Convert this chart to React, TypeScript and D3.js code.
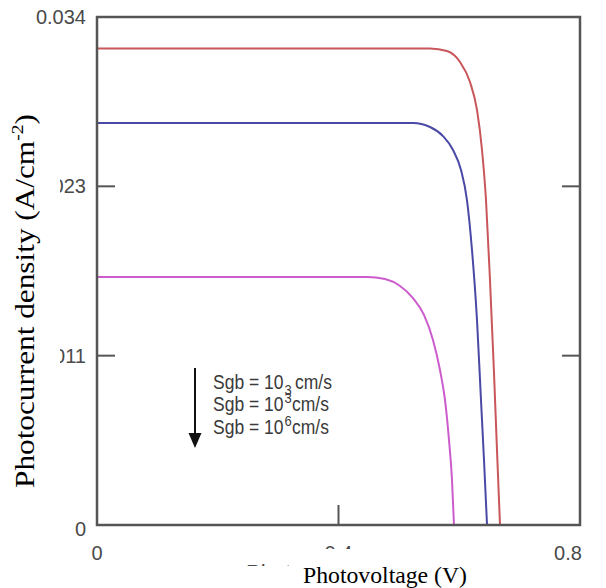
import React from "react";
import * as d3 from "d3";

// Data (V in volts, J in A/cm^2)
const redV = [0, 0.3, 0.5516, 0.5797, 0.6012, 0.6178, 0.6294, 0.6377, 0.6443, 0.6509, 0.6575, 0.6625, 0.6675];
const redJ = [0.0319, 0.0319, 0.0319, 0.03172, 0.03099, 0.02965, 0.02778, 0.0251, 0.02175, 0.0164, 0.01024, 0.00502, 0];
const blueV = [0, 0.3, 0.5234, 0.5516, 0.5731, 0.5897, 0.6029, 0.6128, 0.6211, 0.6294, 0.636, 0.641, 0.646];
const blueJ = [0.0269, 0.0269, 0.0269, 0.02664, 0.02603, 0.0251, 0.02376, 0.02175, 0.01841, 0.01372, 0.00837, 0.00435, 0];
const magV = [0, 0.3, 0.4472, 0.477, 0.5019, 0.5234, 0.5416, 0.5565, 0.5681, 0.5764, 0.583, 0.588, 0.5913];
const magJ = [0.0166, 0.0166, 0.0166, 0.01646, 0.016, 0.01519, 0.01406, 0.01238, 0.01037, 0.00837, 0.00569, 0.00301, 0];

const yTickValues = [0, 0.034 / 3, 0.068 / 3, 0.034];
const yTickLabels = ["0", "0.011", "0.023", "0.034"];
const xTickValues = [0, 0.4, 0.8];
const xTickLabels = ["0", "0.4", "0.8"];
const legendExp = ["3", "3", "6"];

const W = 606;
const H = 588;

export default function App() {
  const x = d3.scaleLinear().domain([0, 0.8]).range([97, 580]);
  const y = d3.scaleLinear().domain([0, 0.034]).range([525, 17]);
  const line = d3
    .line<[number, number]>()
    .x((d) => x(d[0]))
    .y((d) => y(d[1]))
    .curve(d3.curveMonotoneX);

  const series = [
    { v: redV, j: redJ, color: "#c8565a" },
    { v: blueV, j: blueJ, color: "#4a4aa6" },
    { v: magV, j: magJ, color: "#cc5ccc" },
  ];

  const axisColor = "#555";
  const tickFont = "'Liberation Sans', Arial, sans-serif";
  const legFont = "'Liberation Sans', Arial, sans-serif";

  const legBase = [389, 411, 434];

  return (
    <svg
      width={W}
      height={H}
      style={{ position: "absolute", left: 0, top: 0, background: "#fff" }}
    >
      <defs>
        <clipPath id="lblclip">
          <rect x={60} y={0} width={40} height={H} />
        </clipPath>
      </defs>
      <rect x={0} y={0} width={W} height={H} fill="#fff" />

      {/* curves */}
      {series.map((s, i) => (
        <path
          key={i}
          d={line(s.v.map((v, k) => [v, s.j[k]] as [number, number])) || ""}
          fill="none"
          stroke={s.color}
          strokeWidth={2}
        />
      ))}

      {/* frame */}
      <rect
        x={x(0)}
        y={y(0.034)}
        width={x(0.8) - x(0)}
        height={y(0) - y(0.034)}
        fill="none"
        stroke={axisColor}
        strokeWidth={2.5}
      />

      {/* y ticks */}
      {yTickValues.map((t, i) =>
        i > 0 && i < yTickValues.length - 1 ? (
          <g key={"yt" + i}>
            <line x1={x(0)} x2={x(0) + 18} y1={y(t)} y2={y(t)} stroke={axisColor} strokeWidth={2} />
            <line x1={x(0.8) - 18} x2={x(0.8)} y1={y(t)} y2={y(t)} stroke={axisColor} strokeWidth={2} />
          </g>
        ) : null
      )}
      {yTickValues.map((t, i) => (
        <text
          key={"yl" + i}
          x={86}
          y={y(t) + (i === 0 ? 11 : 7)}
          textAnchor="end"
          fontFamily={tickFont}
          fontSize={20}
          fill="#4a4a4a"
          clipPath={i === 1 || i === 2 ? "url(#lblclip)" : undefined}
        >
          {yTickLabels[i]}
        </text>
      ))}

      {/* x ticks */}
      {xTickValues.map((t, i) =>
        i > 0 && i < xTickValues.length - 1 ? (
          <line key={"xt" + i} x1={x(t)} x2={x(t)} y1={y(0)} y2={y(0) - 20} stroke={axisColor} strokeWidth={2} />
        ) : null
      )}
      {/* original axis title remnant */}
      <text x={246} y={580} fontFamily={tickFont} fontSize={22} fill="#4a4a4a">
        Photovoltage (V)
      </text>
      {xTickValues.map((t, i) => (
        <text
          key={"xl" + i}
          x={x(t) - (i === xTickValues.length - 1 ? 12 : 0)}
          y={560}
          textAnchor="middle"
          fontFamily={tickFont}
          fontSize={20}
          fill="#4a4a4a"
        >
          {xTickLabels[i]}
        </text>
      ))}
      <rect x={296} y={549} width={240} height={H - 549} fill="#fff" />
      <rect x={200} y={566} width={340} height={H - 566} fill="#fff" />

      {/* legend arrow */}
      <line x1={195} x2={195} y1={368} y2={436} stroke="#111" strokeWidth={2} />
      <path d="M188.5,433 L201.5,433 L195,448 Z" fill="#111" />

      {/* legend text */}
      {legBase.map((b, i) => (
        <g key={"lg" + i} fontFamily={legFont} fill="#3a3a3a">
          <text transform={`translate(213,${b}) scale(1,1.18)`} fontSize={17.5}>
            Sgb = 10
          </text>
          <text
            transform={`translate(284.5,${i === 0 ? b + 6 : b - 8}) scale(1,1.15)`}
            fontSize={13}
          >
            {legendExp[i]}
          </text>
          <text
            transform={`translate(${i === 0 ? 295 : 292},${b}) scale(1,1.18)`}
            fontSize={17.5}
          >
            cm/s
          </text>
        </g>
      ))}

      {/* axis titles */}
      <text
        x={303}
        y={583}
        fontFamily="'Liberation Serif', 'Times New Roman', serif"
        fontSize={23}
        textLength={164}
        lengthAdjust="spacingAndGlyphs"
        fill="#000"
      >
        Photovoltage (V)
      </text>
      <text
        transform="translate(34,488) rotate(-90)"
        fontFamily="'Liberation Serif', 'Times New Roman', serif"
        fontSize={27}
        textLength={374}
        lengthAdjust="spacingAndGlyphs"
        fill="#000"
      >
        Photocurrent density (A/cm
        <tspan fontSize={17} dy={-11}>-2</tspan>
        <tspan dy={11}>)</tspan>
      </text>
    </svg>
  );
}
